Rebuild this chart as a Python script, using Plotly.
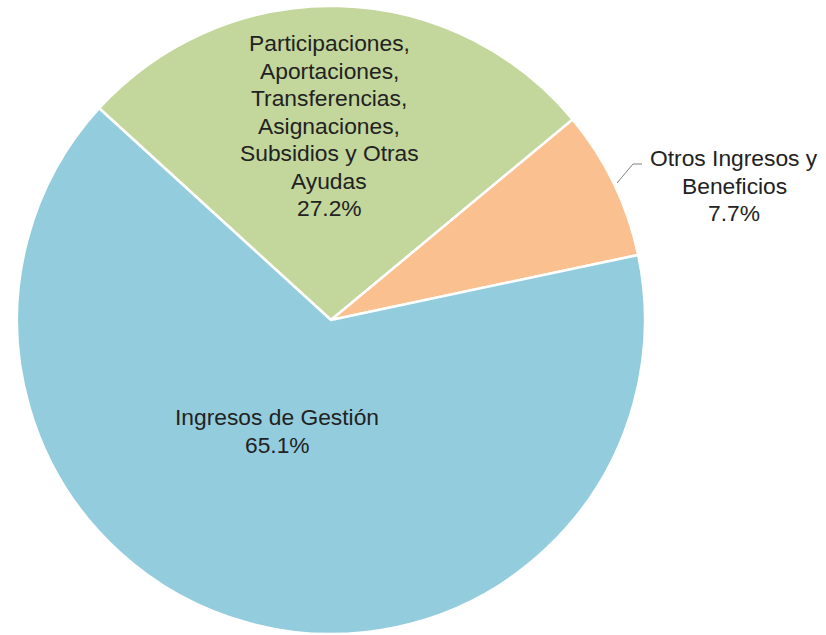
import plotly.graph_objects as go

labels = ["Participaciones, Aportaciones, Transferencias, Asignaciones, Subsidios y Otras Ayudas",
          "Otros Ingresos y Beneficios",
          "Ingresos de Gestión"]
label_lines = [["Participaciones,", "Aportaciones,", "Transferencias,", "Asignaciones,", "Subsidios y Otras", "Ayudas"],
               ["Otros Ingresos y", "Beneficios"],
               ["Ingresos de Gestión"]]
values = [27.2, 7.7, 65.1]
colors = ["#C3D69B", "#FAC090", "#93CDDD"]

W, H = 826, 635
cx, cy, r = 331, 320, 314

fig = go.Figure(go.Pie(
    labels=labels, values=values, sort=False, direction="clockwise",
    rotation=-47.6,
    marker=dict(colors=colors, line=dict(color="white", width=2.5)),
    textinfo="none", hoverinfo="label+percent", showlegend=False,
    domain=dict(x=[(cx - r) / W, (cx + r) / W], y=[(H - cy - r) / H, (H - cy + r) / H]),
))

total = sum(values)
# (x centre, y of first line) in pixels for each label block
pos = [(329, 43), (734, 158), (277, 417)]
line_h = 27.5
anns = []
for lines, v, (px, py) in zip(label_lines, values, pos):
    all_lines = lines + [f"{v / total * 100:.1f}%"]
    for i, t in enumerate(all_lines):
        anns.append(dict(x=px / W, y=1 - (py + i * line_h) / H, xref="paper", yref="paper", text=t,
                         showarrow=False, xanchor="center", yanchor="middle",
                         font=dict(family="Liberation Sans, Arial", size=22.8, color="#222222")))

shapes = [
    dict(type="line", xref="paper", yref="paper", x0=617 / W, y0=1 - 183 / H, x1=633 / W, y1=1 - 164 / H,
         line=dict(color="#808080", width=1)),
    dict(type="line", xref="paper", yref="paper", x0=633 / W, y0=1 - 164 / H, x1=642 / W, y1=1 - 164 / H,
         line=dict(color="#808080", width=1)),
]

fig.update_layout(width=W, height=H, margin=dict(l=0, r=0, t=0, b=0),
                  paper_bgcolor="white", plot_bgcolor="white",
                  annotations=anns, shapes=shapes)
fig.write_html("out.html", config={"displayModeBar": False},
               post_script="document.body.style.margin='0';")
